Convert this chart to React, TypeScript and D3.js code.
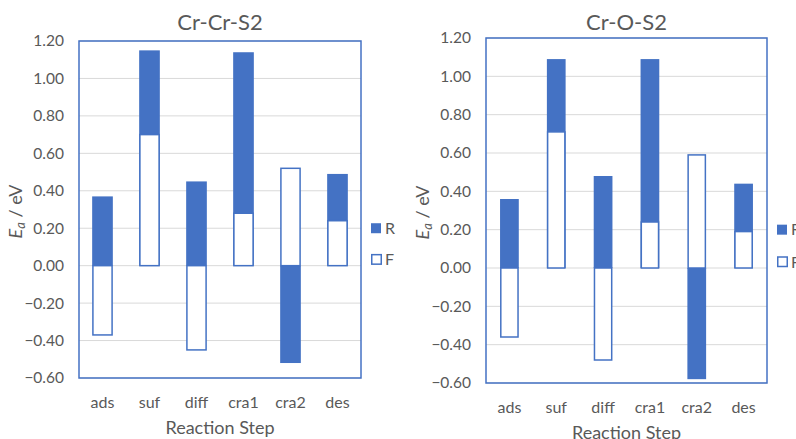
import React from "react";
import * as d3 from "d3";

const steps = ["ads", "suf", "diff", "cra1", "cra2", "des"];
const yTicks = [-0.6, -0.4, -0.2, 0, 0.2, 0.4, 0.6, 0.8, 1.0, 1.2];

// Cr-Cr-S2
const crCrR = [0.37, 1.15, 0.45, 1.14, -0.52, 0.49];
const crCrF = [-0.37, 0.70, -0.45, 0.28, 0.52, 0.24];

// Cr-O-S2
const crOR = [0.36, 1.09, 0.48, 1.09, -0.58, 0.44];
const crOF = [-0.36, 0.71, -0.48, 0.24, 0.59, 0.19];

const BLUE = "#4472C4";
const GREY = "#595959";
const FONT = "Lato, 'Open Sans', sans-serif";

type PanelProps = {
  title: string;
  R: number[];
  F: number[];
  left: number;
  right: number;
  top: number;
  bottom: number;
  pad: number;
};

const Panel = ({ title, R, F, left, right, top, bottom, pad }: PanelProps) => {
  const x = d3.scaleBand<string>().domain(steps).range([left, right])
    .paddingInner(pad).paddingOuter(pad / 2);
  const y = d3.scaleLinear().domain([-0.6, 1.2]).range([bottom, top]);
  const bw = x.bandwidth();
  const cx = (left + right) / 2;
  const cy = (top + bottom) / 2;
  const fmt = d3.format(".2f");

  const barY = (v: number) => Math.min(y(v), y(0));
  const barH = (v: number) => Math.abs(y(v) - y(0));

  return (
    <g fontFamily={FONT}>
      <text x={cx} y={30} textAnchor="middle" fontSize={22} fill={GREY}>{title}</text>

      {yTicks.map(t => (
        <g key={t}>
          <line x1={left} x2={right} y1={y(t)} y2={y(t)} stroke="#d9d9d9" strokeWidth={1} />
          <text x={left - 15} y={y(t)} dy="0.35em" textAnchor="end" fontSize={15.5} fill={GREY}>
            {fmt(t)}
          </text>
        </g>
      ))}

      {/* R bars */}
      {steps.map((s, i) => (
        <rect key={"r" + s} x={x(s)} y={barY(R[i])} width={bw} height={barH(R[i])} fill={BLUE} />
      ))}
      {/* F bars drawn over R */}
      {steps.map((s, i) => (
        <rect key={"f" + s} x={(x(s) as number) + 0.75} y={barY(F[i])} width={bw - 1.5}
          height={barH(F[i])} fill="#fff" stroke={BLUE} strokeWidth={1.5} />
      ))}

      <rect x={left} y={top} width={right - left} height={bottom - top}
        fill="none" stroke={BLUE} strokeWidth={1.5} />

      {steps.map(s => (
        <text key={"c" + s} x={(x(s) as number) + bw / 2} y={bottom + 24} dy="0.35em"
          textAnchor="middle" fontSize={16} fill={GREY}>{s}</text>
      ))}
      <text x={cx} y={bottom + 50} dy="0.35em" textAnchor="middle" fontSize={18} fill={GREY}>
        Reaction Step
      </text>

      <text transform={`translate(${left - 57},${cy + 2}) rotate(-90)`} textAnchor="middle"
        fontSize={18} fill={GREY}>
        <tspan fontStyle="italic">E</tspan>
        <tspan fontStyle="italic" fontSize={13} dy={3}>a</tspan>
        <tspan dy={-3}> / eV</tspan>
      </text>

      <rect x={right + 10} y={y(0.2) - 5} width={10} height={10} fill={BLUE} />
      <text x={right + 24} y={y(0.2)} dy="0.35em" fontSize={16} fill={GREY}>R</text>
      <rect x={right + 10.75} y={y(0) - 11} width={9.5} height={9.5} fill="#fff" stroke={BLUE} strokeWidth={1.5} />
      <text x={right + 24} y={y(0) - 6} dy="0.35em" fontSize={16} fill={GREY}>F</text>
    </g>
  );
};

export default function App() {
  return (
    <svg width={796} height={439} style={{ position: "absolute", left: 0, top: 0, background: "#fff" }}>
      <rect width={796} height={439} fill="#fff" />
      <Panel title="Cr-Cr-S2" R={crCrR} F={crCrF} left={79} right={361} top={41} bottom={378} pad={0.56} />
      <Panel title="Cr-O-S2" R={crOR} F={crOF} left={486} right={767} top={38} bottom={383} pad={0.6} />
    </svg>
  );
}
